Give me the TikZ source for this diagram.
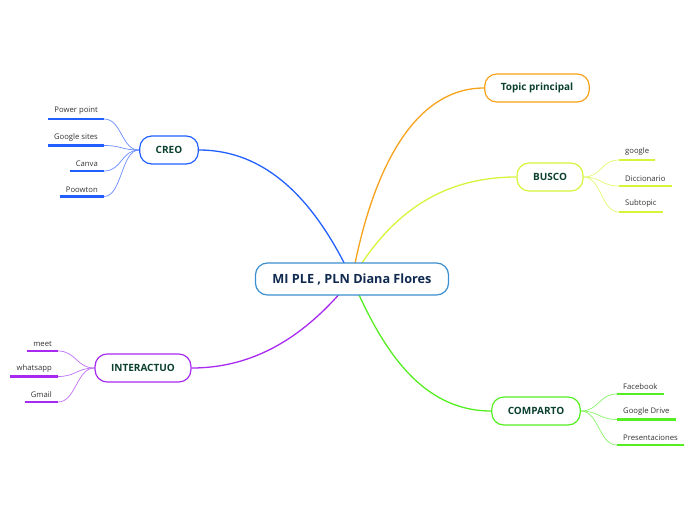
\documentclass[tikz,border=0pt]{standalone}
\usepackage{fontspec}
\setmainfont{Open Sans}
\usetikzlibrary{backgrounds}
\definecolor{rootblue}{HTML}{3A8FD0}
\definecolor{rootink}{HTML}{102A50}
\definecolor{topicink}{HTML}{0B4030}
\definecolor{leafink}{HTML}{333333}
\definecolor{creoblue}{HTML}{2160FF}
\definecolor{creolight}{HTML}{6A8CFF}
\definecolor{toporange}{HTML}{F7A21B}
\definecolor{buscoyel}{HTML}{D6F53A}
\definecolor{buscolight}{HTML}{E2F870}
\definecolor{interpurple}{HTML}{A829F0}
\definecolor{interlight}{HTML}{C070F5}
\definecolor{compgreen}{HTML}{55EE22}
\definecolor{complight}{HTML}{88F266}
\begin{document}
\begin{tikzpicture}
  [x=1pt,y=-1pt,
  root/.style={shape=rectangle,rounded corners=12pt,draw=rootblue,fill=white,text=rootink,line width=1.2pt,minimum height=32pt,inner xsep=17pt,font=\fontsize{12.7}{14}\selectfont\bfseries},
  topic/.style={shape=rectangle,rounded corners=12pt,fill=white,text=topicink,line width=1.2pt,minimum height=28pt,inner xsep=16pt,font=\fontsize{10}{12}\selectfont\bfseries},
  leaf/.style={inner xsep=6pt,inner ysep=4pt,text=leafink,font=\fontsize{7.7}{9}\selectfont},
  branch/.style={line width=1.3pt},
  twig/.style={line width=0.7pt},
  under/.style={line width=2.2pt}]

  \useasboundingbox (0,0) rectangle (696,520);

  \node (ple) [root] at (352,279) {MI PLE , PLN Diana Flores};
  \node (creo) [topic,draw=creoblue] at (169,150) {CREO};
  \node (topic) [topic,draw=toporange] at (537,88) {Topic principal};
  \node (busco) [topic,draw=buscoyel] at (550,177) {BUSCO};
  \node (inter) [topic,draw=interpurple] at (143,368) {INTERACTUO};
  \node (comp) [topic,draw=compgreen] at (536,411) {COMPARTO};

  % leaves
  \node (c1) [leaf,anchor=south east] at (104,119) {Power point};
  \node (c2) [leaf,anchor=south east] at (104,145.5) {Google sites};
  \node (c3) [leaf,anchor=south east] at (104,171) {Canva};
  \node (c4) [leaf,anchor=south east] at (104,196.5) {Poowton};
  \node (i1) [leaf,anchor=south east] at (58,351) {meet};
  \node (i2) [leaf,anchor=south east] at (58,376.5) {whatsapp};
  \node (i3) [leaf,anchor=south east] at (58,402) {Gmail};
  \node (b1) [leaf,anchor=south west] at (619,160) {google};
  \node (b2) [leaf,anchor=south west] at (619,186) {Diccionario};
  \node (b3) [leaf,anchor=south west] at (619,212) {Subtopic};
  \node (k1) [leaf,anchor=south west] at (617,394) {Facebook};
  \node (k2) [leaf,anchor=south west] at (617,419.5) {Google Drive};
  \node (k3) [leaf,anchor=south west] at (617,445) {Presentaciones};

  \foreach \n in {c1,c2,c3,c4}
    \draw [under,creoblue] (\n.south west) -- (\n.south east);
  \foreach \n in {i1,i2,i3}
    \draw [under,interpurple] (\n.south west) -- (\n.south east);
  \foreach \n in {b1,b2,b3}
    \draw [under,buscoyel] (\n.south west) -- (\n.south east);
  \foreach \n in {k1,k2,k3}
    \draw [under,compgreen] (\n.south west) -- (\n.south east);

  \begin{scope}[on background layer]
    \draw [branch,creoblue] (ple.center) .. controls +(-35,-75) and +(70,0) .. (creo.east);
    \draw [branch,toporange] (ple.center) .. controls +(20,-110) and +(-70,0) .. (topic.west);
    \draw [branch,buscoyel] (ple.center) .. controls +(35,-60) and +(-80,0) .. (busco.west);
    \draw [branch,interpurple] (ple.center) .. controls +(-40,50) and +(70,0) .. (inter.east);
    \draw [branch,compgreen] (ple.center) .. controls +(30,70) and +(-70,0) .. (comp.west);

    \foreach \n in {c1,c2,c3,c4}
      \draw [twig,creolight] (creo.west) .. controls +(-18,0) and +(18,0) .. (\n.south east);
    \foreach \n in {i1,i2,i3}
      \draw [twig,interlight] (inter.west) .. controls +(-18,0) and +(18,0) .. (\n.south east);
    \foreach \n in {b1,b2,b3}
      \draw [twig,buscolight] (busco.east) .. controls +(18,0) and +(-18,0) .. (\n.south west);
    \foreach \n in {k1,k2,k3}
      \draw [twig,complight] (comp.east) .. controls +(18,0) and +(-18,0) .. (\n.south west);
  \end{scope}
\end{tikzpicture}
\end{document}
